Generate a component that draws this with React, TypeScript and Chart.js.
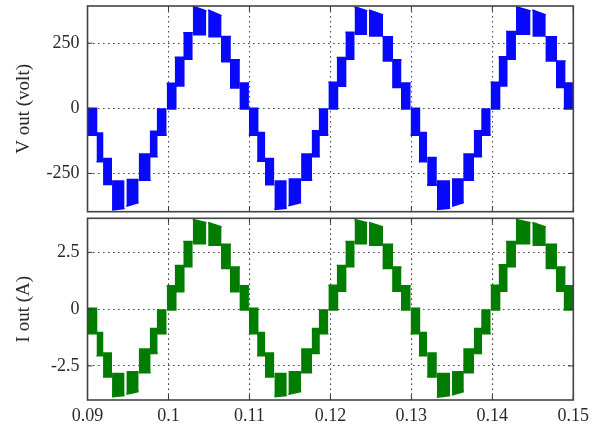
import React, { useEffect, useRef } from "react";
import { Chart, registerables } from "chart.js";
Chart.register(...registerables);

// ---- axis ticks ----
const xTicks = [0.09, 0.1, 0.11, 0.12, 0.13, 0.14, 0.15];
const xTickLabels = ["0.09", "0.1", "0.11", "0.12", "0.13", "0.14", "0.15"];
const vTicks = [-250, 0, 250];
const vTickLabels = ["-250", "0", "250"];
const iTicks = [-2.5, 0, 2.5];
const iTickLabels = ["-2.5", "0", "2.5"];

// ---- PWM blocks (time span of each switching band) ----
const blockStart = [
  0.09000, 0.09111, 0.09192, 0.09303, 0.09480, 0.09632, 0.09768, 0.09854,
  0.09978, 0.10077, 0.10183, 0.10300, 0.10490, 0.10647, 0.10759, 0.10876,
  0.10992, 0.11095, 0.11192, 0.11308, 0.11481, 0.11638, 0.11768, 0.11855,
  0.11975, 0.12078, 0.12185, 0.12298, 0.12476, 0.12642, 0.12762, 0.12872,
  0.12990, 0.13092, 0.13195, 0.13315, 0.13502, 0.13640, 0.13770, 0.13862,
  0.13978, 0.14077, 0.14170, 0.14292, 0.14494, 0.14655, 0.14785, 0.14880,
];
const blockEnd = [
  0.09124, 0.09198, 0.09303, 0.09458, 0.09632, 0.09780, 0.09867, 0.09978,
  0.10102, 0.10201, 0.10300, 0.10468, 0.10656, 0.10771, 0.10882, 0.10994,
  0.11114, 0.11196, 0.11308, 0.11461, 0.11640, 0.11775, 0.11870, 0.11975,
  0.12100, 0.12200, 0.12300, 0.12455, 0.12650, 0.12775, 0.12878, 0.12992,
  0.13112, 0.13196, 0.13315, 0.13480, 0.13648, 0.13774, 0.13874, 0.13980,
  0.14102, 0.14190, 0.14292, 0.14472, 0.14660, 0.14800, 0.14905, 0.15000,
];

// ---- V out (volt): inner level, outer level at start / end of each block ----
const vInner = [
  3, -92, -190, -276, -270, -173, -85, 0,
  -5, 83, 186, 280, 272, 176, 75, -5,
  3, -90, -190, -276, -269, -173, -83, 0,
  -5, 82, 186, 282, 275, 179, 77, -5,
  3, -90, -186, -276, -269, -173, -83, 0,
  -5, 83, 186, 282, 275, 179, 77, -5,
];
const vOuterA = [
  -103, -205, -292, -390, -376, -276, -186, -103,
  96, 196, 290, 392, 378, 276, 186, 97,
  -103, -203, -293, -388, -374, -276, -186, -103,
  100, 195, 292, 390, 378, 275, 186, 97,
  -103, -205, -295, -388, -376, -276, -186, -103,
  100, 198, 295, 390, 378, 275, 182, 97,
];
const vOuterB = [
  -103, -205, -292, -385, -362, -276, -186, -103,
  96, 196, 290, 374, 356, 276, 186, 97,
  -103, -203, -293, -384, -362, -276, -186, -103,
  100, 195, 292, 374, 358, 275, 186, 97,
  -103, -205, -295, -384, -362, -276, -186, -103,
  100, 198, 295, 374, 358, 275, 182, 97,
];

// ---- I out (A) ----
const iInner = [
  0.07, -1.0, -1.9, -2.8, -2.72, -1.72, -0.82, 0,
  -0.07, 0.73, 1.83, 2.85, 2.78, 1.76, 0.73, -0.07,
  0.07, -1.0, -1.9, -2.8, -2.72, -1.72, -0.82, 0,
  -0.07, 0.75, 1.83, 2.85, 2.78, 1.76, 0.75, -0.07,
  0.07, -1.0, -1.9, -2.8, -2.72, -1.72, -0.82, 0,
  -0.07, 0.75, 1.83, 2.85, 2.78, 1.76, 0.75, -0.07,
];
const iOuterA = [
  -1.08, -2.05, -2.98, -3.85, -3.75, -2.8, -1.95, -1.08,
  1.03, 1.92, 2.98, 3.95, 3.82, 2.85, 1.85, 1.03,
  -1.08, -2.05, -2.98, -3.85, -3.75, -2.8, -1.95, -1.08,
  1.05, 1.92, 2.98, 3.95, 3.82, 2.85, 1.85, 1.03,
  -1.08, -2.05, -2.98, -3.88, -3.78, -2.8, -1.95, -1.08,
  1.05, 1.95, 2.98, 3.95, 3.82, 2.85, 1.85, 1.03,
];
const iOuterB = [
  -1.08, -2.05, -2.98, -3.8, -3.62, -2.8, -1.95, -1.08,
  1.03, 1.92, 2.98, 3.8, 3.62, 2.85, 1.85, 1.03,
  -1.08, -2.05, -2.98, -3.8, -3.62, -2.8, -1.95, -1.08,
  1.05, 1.92, 2.98, 3.8, 3.62, 2.85, 1.85, 1.03,
  -1.08, -2.05, -2.98, -3.8, -3.62, -2.8, -1.95, -1.08,
  1.05, 1.95, 2.98, 3.8, 3.62, 2.85, 1.85, 1.03,
];

const BLUE = "rgb(8,8,250)";
const GREEN = "rgb(0,125,0)";
const FONT = "'Liberation Serif', 'DejaVu Serif', serif";
const GRID = "#4a4a4a";

function blockDatasets(inner: number[], outerA: number[], outerB: number[], color: string) {
  return blockStart.map((s, k) => ({
    data: [
      { x: s, y: outerA[k] },
      { x: blockEnd[k], y: outerB[k] },
    ],
    fill: { value: inner[k] },
    backgroundColor: color,
    borderColor: color,
    borderWidth: 1.6,
    pointRadius: 0,
    tension: 0,
  }));
}

const boxPlugin = {
  id: "boxTicks",
  afterDraw(chart: any) {
    const { ctx, chartArea } = chart;
    const { left, right, top, bottom } = chartArea;
    ctx.save();
    ctx.strokeStyle = "#333";
    ctx.lineWidth = 1;
    const xs = chart.scales.x;
    const ys = chart.scales.y;
    ctx.beginPath();
    xs.ticks.forEach((t: any) => {
      const px = xs.getPixelForValue(t.value);
      ctx.moveTo(px, bottom);
      ctx.lineTo(px, bottom - 5);
      ctx.moveTo(px, top);
      ctx.lineTo(px, top + 5);
    });
    ys.ticks.forEach((t: any) => {
      const py = ys.getPixelForValue(t.value);
      ctx.moveTo(left, py);
      ctx.lineTo(left + 5, py);
      ctx.moveTo(right, py);
      ctx.lineTo(right - 5, py);
    });
    ctx.stroke();
    ctx.strokeStyle = "#444";
    ctx.lineWidth = 1.6;
    ctx.strokeRect(left, top, right - left, bottom - top);
    ctx.restore();
  },
};

function zeroPad(s: any) {
  s.paddingTop = 0;
  s.paddingBottom = 0;
  s.paddingLeft = 0;
  s.paddingRight = 0;
}

function makeOptions(
  yMin: number,
  yMax: number,
  yTicks: number[],
  yLabels: string[],
  yTitle: string,
  showX: boolean,
  padTop: number,
  padBottom: number
): any {
  return {
    animation: false,
    responsive: false,
    maintainAspectRatio: false,
    events: [],
    layout: { autoPadding: false, padding: { left: 0, right: 28.7, top: padTop, bottom: padBottom } },
    plugins: { legend: { display: false }, tooltip: { enabled: false } },
    scales: {
      x: {
        type: "linear",
        min: 0.09,
        max: 0.15,
        afterBuildTicks: (s: any) => {
          s.ticks = xTicks.map((v) => ({ value: v }));
        },
        afterFit: (s: any) => {
          s.height = showX ? 29 : 0;
          zeroPad(s);
        },
        ticks: {
          display: showX,
          padding: 5,
          maxRotation: 0,
          autoSkip: false,
          color: "#2a2a2a",
          font: { family: FONT, size: 18 },
          callback: (_v: any, i: number) => xTickLabels[i],
        },
        grid: { drawTicks: false, color: GRID, lineWidth: 1.1 },
        border: { display: false, dash: [1.6, 3.4] },
      },
      y: {
        type: "linear",
        min: yMin,
        max: yMax,
        afterBuildTicks: (s: any) => {
          s.ticks = yTicks.map((v) => ({ value: v }));
        },
        afterFit: (s: any) => {
          s.width = 87.5;
          zeroPad(s);
        },
        ticks: {
          padding: 8,
          autoSkip: false,
          color: "#2a2a2a",
          font: { family: FONT, size: 18 },
          callback: (_v: any, i: number) => yLabels[i],
        },
        title: {
          display: true,
          text: yTitle,
          color: "#2a2a2a",
          font: { family: FONT, size: 19 },
          padding: { top: 13, bottom: 0 },
        },
        grid: { drawTicks: false, color: GRID, lineWidth: 1.1 },
        border: { display: false, dash: [1.6, 3.4] },
      },
    },
  };
}

export default function App() {
  const topRef = useRef<HTMLCanvasElement | null>(null);
  const botRef = useRef<HTMLCanvasElement | null>(null);

  useEffect(() => {
    const top = new Chart(topRef.current as HTMLCanvasElement, {
      type: "line",
      data: { datasets: blockDatasets(vInner, vOuterA, vOuterB, BLUE) as any },
      options: makeOptions(-397, 393, vTicks, vTickLabels, "V out (volt)", false, 6, 3.3),
      plugins: [boxPlugin],
    });
    const bot = new Chart(botRef.current as HTMLCanvasElement, {
      type: "line",
      data: { datasets: blockDatasets(iInner, iOuterA, iOuterB, GREEN) as any },
      options: makeOptions(-4, 4, iTicks, iTickLabels, "I out (A)", true, 6.3, 0),
      plugins: [boxPlugin],
    });
    return () => {
      top.destroy();
      bot.destroy();
    };
  }, []);

  return (
    <div style={{ position: "fixed", left: 0, top: 0, width: 602, height: 429, background: "#fff" }}>
      <canvas
        ref={topRef}
        width={602}
        height={215}
        style={{ position: "absolute", left: 0, top: 0, width: 602, height: 215 }}
      />
      <canvas
        ref={botRef}
        width={602}
        height={217}
        style={{ position: "absolute", left: 0, top: 212, width: 602, height: 217 }}
      />
    </div>
  );
}
